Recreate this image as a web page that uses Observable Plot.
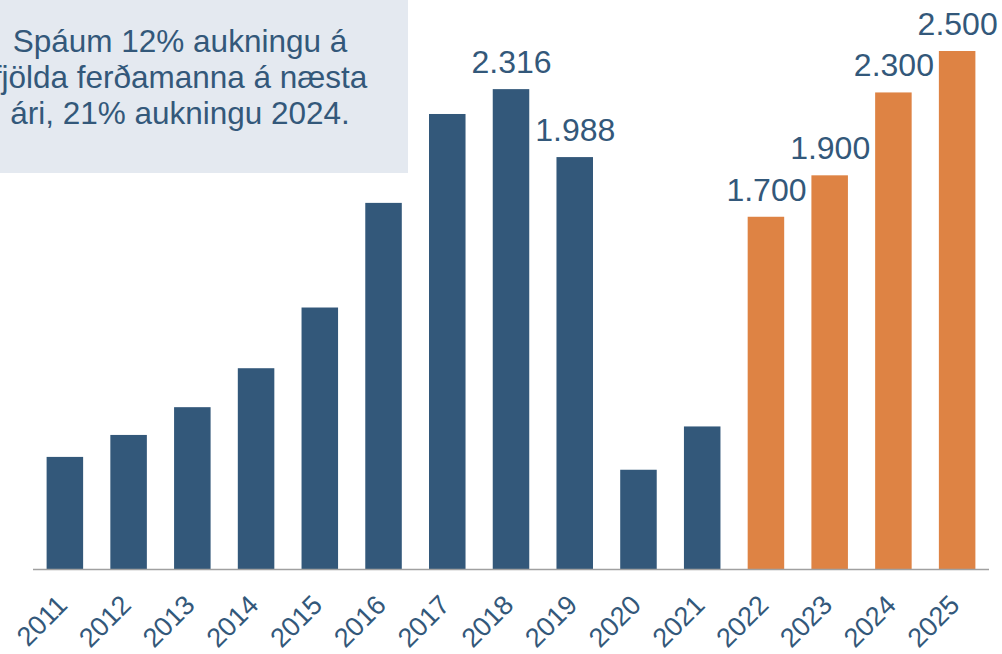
<!DOCTYPE html>
<html>
<head>
<meta charset="utf-8">
<script src="https://cdn.jsdelivr.net/npm/d3@7"></script>
<script src="https://cdn.jsdelivr.net/npm/@observablehq/plot@0.6"></script>
<style>
  html, body { margin: 0; padding: 0; background: #fff; }
  #wrap { position: relative; width: 1002px; height: 654px; overflow: hidden; font-family: "Liberation Sans", Arial, sans-serif; }
  #note { position: absolute; left: 0; top: 0; width: 408px; height: 173px; background: #e4e9f0; overflow: hidden; }
  #note div { position: absolute; left: -100px; width: 560px; top: 23px; text-align: center; white-space: nowrap;
    font-size: 31.5px; line-height: 36px; color: #33587a; }
</style>
</head>
<body>
<div id="wrap"><div id="chart"></div><div id="note"><div>Spáum 12% aukningu á<br>fjölda ferðamanna á næsta<br>ári, 21% aukningu 2024.</div></div></div>
<script>
const years = ["2011","2012","2013","2014","2015","2016","2017","2018","2019","2020","2021","2022","2023","2024","2025"];
const visitors = [541, 647, 781, 969, 1262, 1767, 2196, 2316, 1988, 479, 688, 1700, 1900, 2300, 2500];
const kinds = ["Raun","Raun","Raun","Raun","Raun","Raun","Raun","Raun","Raun","Raun","Raun","Spá","Spá","Spá","Spá"];
const valueLabels = [null,null,null,null,null,null,null,"2.316","1.988",null,null,"1.700","1.900","2.300","2.500"];

const data = years.map((y, i) => ({year: y, value: visitors[i], kind: kinds[i], label: valueLabels[i]}));
const blue = "#33587a", orange = "#de8344";

const chart = Plot.plot({
  width: 1002,
  height: 654,
  marginLeft: 33,
  marginRight: 13,
  marginTop: 51,
  marginBottom: 85,
  style: {fontFamily: "'Liberation Sans', Arial, sans-serif", background: "transparent"},
  x: {domain: years, paddingInner: 0.427, paddingOuter: 0.2135, round: false, label: null, axis: null},
  y: {domain: [0, 2500], axis: null},
  color: {domain: ["Raun","Spá"], range: [blue, orange]},
  marks: [
    Plot.barY(data, {x: "year", y: "value", fill: "kind"}),
    Plot.ruleY([0], {stroke: "#a0a0a0", strokeWidth: 1.5}),
    Plot.text(data.filter(d => d.label), {x: "year", y: "value", text: "label", dy: -27, fontSize: 32, fill: blue}),
    Plot.text(data, {x: "year", y: () => 0, text: "year", rotate: -45, textAnchor: "end", lineAnchor: "middle",
      dx: -2.5, dy: 31, fontSize: 27, fill: blue})
  ]
});
document.getElementById("chart").appendChild(chart);
</script>
</body>
</html>
